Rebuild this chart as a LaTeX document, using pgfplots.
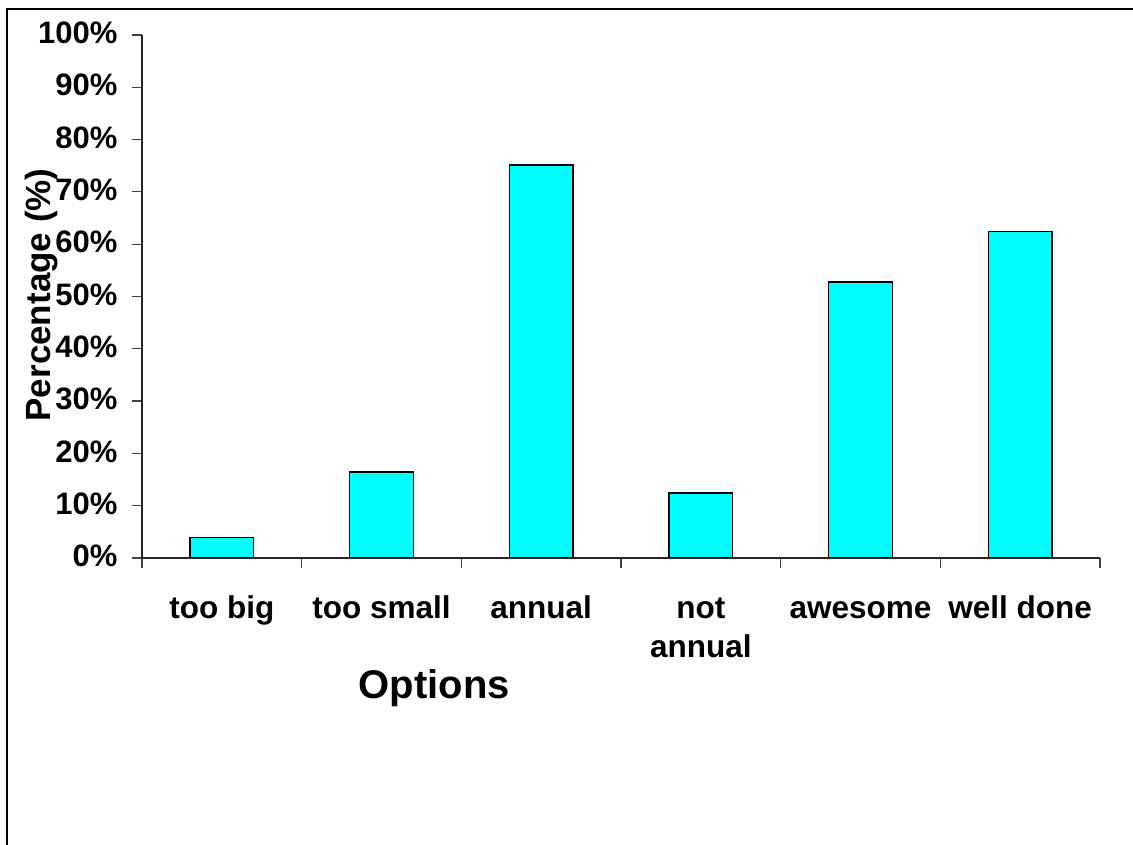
\documentclass[border=0pt]{standalone}
\usepackage{fontspec}
\setmainfont{Liberation Sans}
\usepackage{pgfplots}
\pgfplotsset{compat=1.18}
\definecolor{barcyan}{RGB}{0,255,255}
\begin{document}
\begin{tikzpicture}
\begin{axis}[
  at={(142bp,287bp)}, anchor=south west,
  width=958bp, height=523bp, scale only axis,
  xmin=0, xmax=6, ymin=0, ymax=100,
  axis lines=left,
  axis line style={-, line width=1.2bp, black!85},
  tick align=outside, major tick length=10bp,
  tick style={line width=1.2bp, color=black!75},
  typeset ticklabels with strut,
  xtick={0,1,2,3,4,5,6},
  xticklabels={too big, too small, annual, {not\\annual}, awesome, well done, {}},
  xticklabel style={xshift=79.83bp, yshift=-20bp, align=center, font=\fontsize{31.5bp}{39bp}\selectfont\bfseries},
  ytick={0,10,20,30,40,50,60,70,80,90,100},
  yticklabels={0\%,10\%,20\%,30\%,40\%,50\%,60\%,70\%,80\%,90\%,100\%},
  yticklabel style={xshift=-11bp, yshift=-1.5bp, font=\fontsize{31bp}{36bp}\selectfont\bfseries},
  ybar, bar width=63.6bp,
  xlabel={Options},
  every axis x label/.style={at={(axis description cs:0.305,-0.268)}, anchor=base, font=\fontsize{40bp}{48bp}\selectfont\bfseries},
  ylabel={Percentage (\%)},
  every axis y label/.style={at={(axis description cs:-0.1054,0.503)}, rotate=90, anchor=center, font=\fontsize{35bp}{42bp}\selectfont\bfseries},
]
\addplot[fill=barcyan, draw=black, line width=1.5bp] coordinates {(0.5,3.9) (1.5,16.4) (2.5,75.1) (3.5,12.4) (4.5,52.8) (5.5,62.4)};
\end{axis}
\draw[line width=2bp] (7.3bp,0bp) -- (7.3bp,835.5bp) -- (1133bp,835.5bp);
\pgfresetboundingbox
\useasboundingbox (0bp,0bp) rectangle (1133bp,845bp);
\end{tikzpicture}
\end{document}
